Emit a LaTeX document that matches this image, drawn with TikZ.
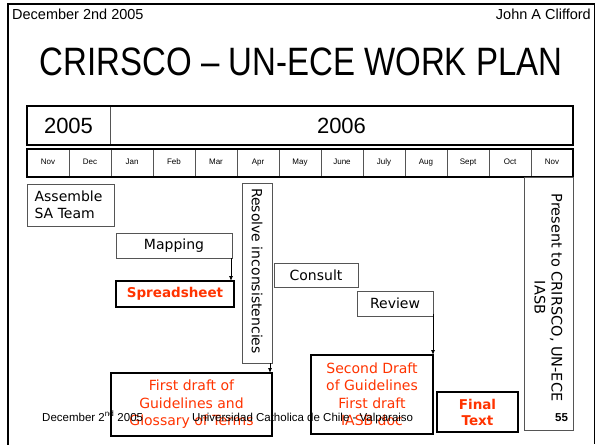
\documentclass[tikz,border=0pt]{standalone}
\usepackage{fontspec}
\setmainfont{Liberation Sans}
\newfontfamily\vfont{DejaVu Sans}
\usetikzlibrary{arrows.meta}
\definecolor{redtxt}{RGB}{255,51,0}
\definecolor{thinline}{RGB}{85,85,85}
\begin{document}
\begin{tikzpicture}[x=1pt,y=-1pt,
  thinbox/.style={draw=thinline, line width=0.9pt, inner sep=0pt, outer sep=0pt, anchor=north west},
  thickbox/.style={draw=black, line width=1.8pt, inner sep=0pt, outer sep=0pt, anchor=north west},
  boxtxt/.style={font=\vfont\fontsize{14}{17.5}\selectfont, align=center, inner sep=0pt},
  redtxt/.style={boxtxt, text=redtxt},
  mcell/.style={draw=thinline, line width=0.7pt, inner sep=0pt, outer sep=0pt, anchor=north west, minimum width=42pt, minimum height=28pt, font=\fontsize{8}{9}\selectfont},
  arr/.style={-{Latex[length=5pt,width=4pt]}, line width=0.8pt},
  frame/.style={line width=2pt, line cap=rect}
]
\useasboundingbox (0,0) rectangle (596,444);
% slide frame
\coordinate (ftl) at (7.5,4);
\coordinate (ftr) at (594,4);
\coordinate (fbl) at (7.5,444);
\coordinate (fbr) at (594,444);
\draw[frame] (fbl) -- (ftl) -- (ftr);
\draw[line width=1pt] (ftr) -- (fbr);
% header
\node[anchor=base west, inner sep=0pt, font=\fontsize{14.5}{16}\selectfont] (hdate) at (12,20) {December 2nd 2005};
\node[anchor=base east, inner sep=0pt, font=\fontsize{14.5}{16}\selectfont] (hauthor) at (591,20) {John A Clifford};
\node[anchor=base, inner sep=0pt, font=\fontsize{33}{36}\selectfont] (title) at (301,75) {\scalebox{1}[1.2]{CRIRSCO – UN-ECE WORK PLAN}};
% year row
\node[thinbox, minimum width=83pt, minimum height=39pt, font=\fontsize{22}{24}\selectfont] (y2005) at (27,106) {2005};
\node[thinbox, minimum width=463pt, minimum height=39pt, font=\fontsize{22}{24}\selectfont] (y2006) at (110,106) {2006};
\node[thickbox, minimum width=546pt, minimum height=39pt] (yearrow) at (27,106) {};
% month row
\foreach \m [count=\i from 0] in {Nov,Dec,Jan,Feb,Mar,Apr,May,June,July,Aug,Sept,Oct,Nov}{
  \node[mcell] (m\i) at (27+42*\i,149) {\raisebox{2pt}{\m}};
}
\node[thickbox, minimum width=546pt, minimum height=28pt] (monthrow) at (27,149) {};
% tasks
\node[thinbox, minimum width=87pt, minimum height=42pt] (assemble) at (27,184) {};
\node[boxtxt, align=left, xshift=-2pt] (assembletxt) at (assemble.center) {Assemble\\SA Team};
\node[thinbox, minimum width=116pt, minimum height=25pt] (mapping) at (116,233) {};
\node[boxtxt] (mappingtxt) at (mapping.center) {Mapping};
\node[thickbox, minimum width=118pt, minimum height=26pt] (spread) at (116,281) {};
\node[redtxt, font=\vfont\bfseries\fontsize{13.5}{16}\selectfont] (spreadtxt) at (spread.center) {Spreadsheet};
\node[thinbox, minimum width=30pt, minimum height=180pt] (resolve) at (242,183) {};
\node[boxtxt, rotate=-90] (resolvetxt) at ([yshift=2pt]resolve.center) {Resolve inconsistencies};
\node[thinbox, minimum width=84pt, minimum height=24pt] (consult) at (274,263) {};
\node[boxtxt] (consulttxt) at (consult.center) {Consult};
\node[thinbox, minimum width=76pt, minimum height=25pt] (review) at (357,291) {};
\node[boxtxt] (reviewtxt) at (review.center) {Review};
\node[thinbox, minimum width=49pt, minimum height=253pt] (present) at (524,177) {};
\node[boxtxt, rotate=-90, font=\vfont\fontsize{14.5}{17}\selectfont] (presenttxt) at ([yshift=6pt]present.center) {Present to CRIRSCO, UN-ECE\\IASB};
\node[thickbox, minimum width=161pt, minimum height=63pt] (first) at (111,373) {};
\node[redtxt] (firsttxt) at (first.center) {First draft of\\Guidelines and\\Glossary of Terms};
\node[thickbox, minimum width=122pt, minimum height=79pt] (second) at (311,355) {};
\node[redtxt] (secondtxt) at (second.center) {Second Draft\\of Guidelines\\First draft\\IASB doc};
\node[thickbox, minimum width=81pt, minimum height=40pt] (final) at (437,392) {};
\node[redtxt, font=\vfont\bfseries\fontsize{13.5}{16}\selectfont] (finaltxt) at (final.center) {Final\\Text};
% arrows
\draw[arr] ([xshift=-1pt]mapping.south east) -- ([xshift=-1pt]mapping.south east |- spread.north);
\draw[arr] ([xshift=-2pt]resolve.south east) -- ([xshift=-2pt]resolve.south east |- first.north);
\draw[arr] ([yshift=2pt]review.south east) -- (review.south east |- second.north);
% footer
\node[anchor=base west, inner sep=0pt, font=\fontsize{11.5}{13}\selectfont] (fdate) at (42,421) {December 2\textsuperscript{nd} 2005};
\node[anchor=base west, inner sep=0pt, font=\fontsize{11.5}{13}\selectfont] (fplace) at (192,421) {Universidad Catholica de Chile - Valparaiso};
\node[anchor=base west, inner sep=0pt, font=\bfseries\fontsize{11.5}{13}\selectfont] (fpage) at (555,421) {55};
\end{tikzpicture}
\end{document}
